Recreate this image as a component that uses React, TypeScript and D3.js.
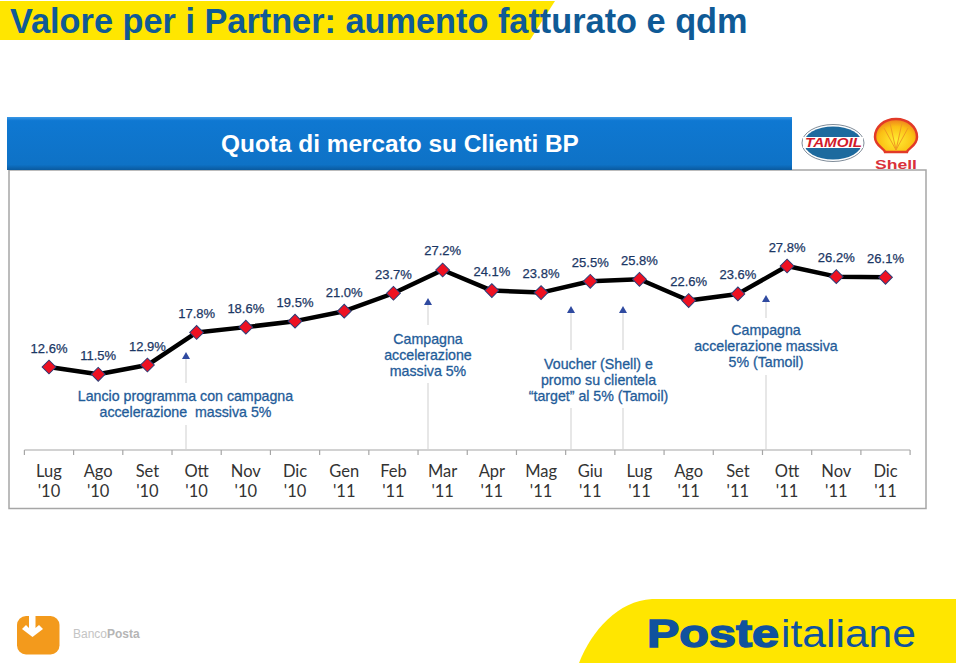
import React from "react";
import * as d3 from "d3";

const months = ["Lug","Ago","Set","Ott","Nov","Dic","Gen","Feb","Mar","Apr","Mag","Giu","Lug","Ago","Set","Ott","Nov","Dic"];
const years = ["'10","'10","'10","'10","'10","'10","'11","'11","'11","'11","'11","'11","'11","'11","'11","'11","'11","'11"];
const values = [12.6,11.5,12.9,17.8,18.6,19.5,21.0,23.7,27.2,24.1,23.8,25.5,25.8,22.6,23.6,27.8,26.2,26.1];
const sans = "'Liberation Sans', Arial, sans-serif";
const notes = [
  { x: 186, top: 352, bottom: 449, gapA: 383, gapB: 425, lines: ["Lancio programma con campagna", "accelerazione\u00A0 massiva 5%"], cx: 185.5, y0: 401 },
  { x: 428, top: 298, bottom: 449, gapA: 325, gapB: 383, lines: ["Campagna", "accelerazione", "massiva 5%"], cx: 428, y0: 344 },
  { x: 571, top: 306, bottom: 449, gapA: 350, gapB: 408, lines: [], cx: 0, y0: 0 },
  { x: 623, top: 306, bottom: 449, gapA: 350, gapB: 408, lines: [], cx: 0, y0: 0 },
  { x: 766, top: 295, bottom: 449, gapA: 318, gapB: 375, lines: ["Campagna", "accelerazione massiva", "5% (Tamoil)"], cx: 766, y0: 335 },
];
const voucherLines = ["Voucher (Shell) e", "promo su clientela", "\u201Ctarget\u201D al 5% (Tamoil)"];

export default function App() {
  const x = d3.scaleLinear().domain([0, 17]).range([49, 885.5]);
  const y = d3.scaleLinear().domain([12.6, 27.8]).range([367, 266]);
  const line = d3.line<number>().x((_, i) => x(i)).y((d) => y(d));
  const step = x(1) - x(0);
  const ticks = d3.range(0, 19).map((i) => x(i) - step / 2);
  const navy = "#1b3765";
  const blue = "#1f5c99";
  return (
    <svg width={960} height={664} style={{ position: "absolute", left: 0, top: 0, background: "#fff" }} fontFamily={sans}>
      <defs>
        <linearGradient id="hdr" x1="0" y1="0" x2="0" y2="1">
          <stop offset="0" stopColor="#3a97e6" />
          <stop offset="0.07" stopColor="#0f78d2" />
          <stop offset="0.9" stopColor="#0e72c6" />
          <stop offset="1" stopColor="#0a5a9e" />
        </linearGradient>
        <radialGradient id="shellFill" cx="0.5" cy="0.65" r="0.6">
          <stop offset="0" stopColor="#ffee33" />
          <stop offset="0.7" stopColor="#fbbf14" />
          <stop offset="1" stopColor="#f08a1c" />
        </radialGradient>
      </defs>
      <path d="M0 1 H555 L530 40 H0 Z" fill="#ffe600" />
      <text x={10} y={33} fontSize={34.3} fontWeight={700} fill="#0f5a96">Valore per i Partner: aumento fatturato e qdm</text>

      <rect x={9} y={170} width={917} height={338.500} fill="#fff" stroke="#a6a6a6" strokeWidth={1.5} />
      <rect x={7} y={117} width={785} height={53} fill="url(#hdr)" />
      <text x={400} y={151.500} textAnchor="middle" fontSize={24.4} fontWeight={700} fill="#fff">Quota di mercato su Clienti BP</text>

      <g>
        <ellipse cx={833} cy={143} rx={31} ry={18.5} fill="#fff" stroke="#7f8c99" />
        <ellipse cx={833} cy={143} rx={29} ry={16.500} fill="#1d6a9e" />
        <rect x={803} y={137} width={60} height={11} fill="#fff" />
        <text x={833.500} y={147} textAnchor="middle" fontSize={12} fontWeight={700} fontStyle="italic" fill="#d11a2a" textLength={57} lengthAdjust="spacingAndGlyphs">TAMOIL</text>
        <path d="M896 119 C884 119 875 127 875 137 C875 146 884 148 885 152 L907 152 C908 148 917 146 917 137 C917 127 908 119 896 119 Z" fill="url(#shellFill)" stroke="#e23a28" strokeWidth={2.500} />
        <path d="M896 150 L884 128 M896 150 L890 123 M896 150 L902 123 M896 150 L908 128" stroke="#f09a22" strokeWidth={1} />
        <text x={896} y={169} textAnchor="middle" fontSize={13} fontWeight={700} fill="#d9303a" textLength={42} lengthAdjust="spacingAndGlyphs">Shell</text>
      </g>

      {notes.map((n, i) => (
        <g key={i}>
          <path d={`M${n.x} ${n.top + 7} V${n.gapA} M${n.x} ${n.gapB} V${n.bottom}`} stroke="#cfcfcf" strokeWidth={1} />
          <path d={`M${n.x - 4} ${n.top + 7} L${n.x} ${n.top} L${n.x + 4} ${n.top + 7} Z`} fill="#2f4aa0" />
          {n.lines.map((l, j) => (
            <text key={j} x={n.cx} y={n.y0 + j * 16} textAnchor="middle" fontSize={14.2} fill={blue} stroke={blue} strokeWidth={0.3}>{l}</text>
          ))}
        </g>
      ))}
      {voucherLines.map((l, j) => (
        <text key={l} x={598.500} y={369 + j * 16} textAnchor="middle" fontSize={14.2} fill={blue} stroke={blue} strokeWidth={0.3}>{l}</text>
      ))}

      <path d={line(values) ?? ""} fill="none" stroke="#000" strokeWidth={4.5} strokeLinejoin="round" />
      {values.map((v, i) => (
        <g key={i}>
          <path
            d={d3.symbol(d3.symbolSquare, 95)() ?? ""}
            style={{ transform: `translate(${x(i)}px,${y(v)}px) rotate(45deg)` }}
            fill="#ee1122"
            stroke="#2c3e78"
            strokeWidth={1}
          />
          <text x={x(i)} y={y(v) - 14.5} textAnchor="middle" fontSize={13} fill={navy} stroke={navy} strokeWidth={0.25}>{v.toFixed(1)}%</text>
        </g>
      ))}

      <line x1={ticks[0]} x2={ticks[18]} y1={450} y2={450} stroke="#a6a6a6" strokeWidth={1.2} />
      {ticks.map((t, i) => (
        <line key={i} x1={t} x2={t} y1={450} y2={455} stroke="#a6a6a6" strokeWidth={1.2} />
      ))}
      {months.map((m, i) => (
        <g key={i} fontFamily="Lato, 'Open Sans', sans-serif" fontSize={16.5} fill="#333" textAnchor="middle">
          <text x={x(i)} y={476.500}>{m}</text>
          <text x={x(i)} y={497}>{years[i]}</text>
        </g>
      ))}

      <rect x={17} y={616} width={42.500} height={38.500} rx={9} fill="#f39a1c" />
      <path d="M22 629 L26 625 L29 628 V616 H35.500 V628 L39 625 L43 629 L32.500 637 Z" fill="#fff" />
      <text x={73} y={638} fontSize={12} fill="#c4c4c4">Banco<tspan fontWeight={700} fill="#b5b5b5">Posta</tspan></text>

      <path d="M579 663 C592 630 618 601 652 599 H956 V663 Z" fill="#ffe600" />
      <text x={647} y={647} fontSize={38} fontWeight={700} fill="#10529e" stroke="#10529e" strokeWidth={1.4} textLength={132} lengthAdjust="spacingAndGlyphs">Poste</text>
      <text x={781} y={647} fontSize={38} fill="#10529e" textLength={135} lengthAdjust="spacingAndGlyphs">italiane</text>
    </svg>
  );
}
